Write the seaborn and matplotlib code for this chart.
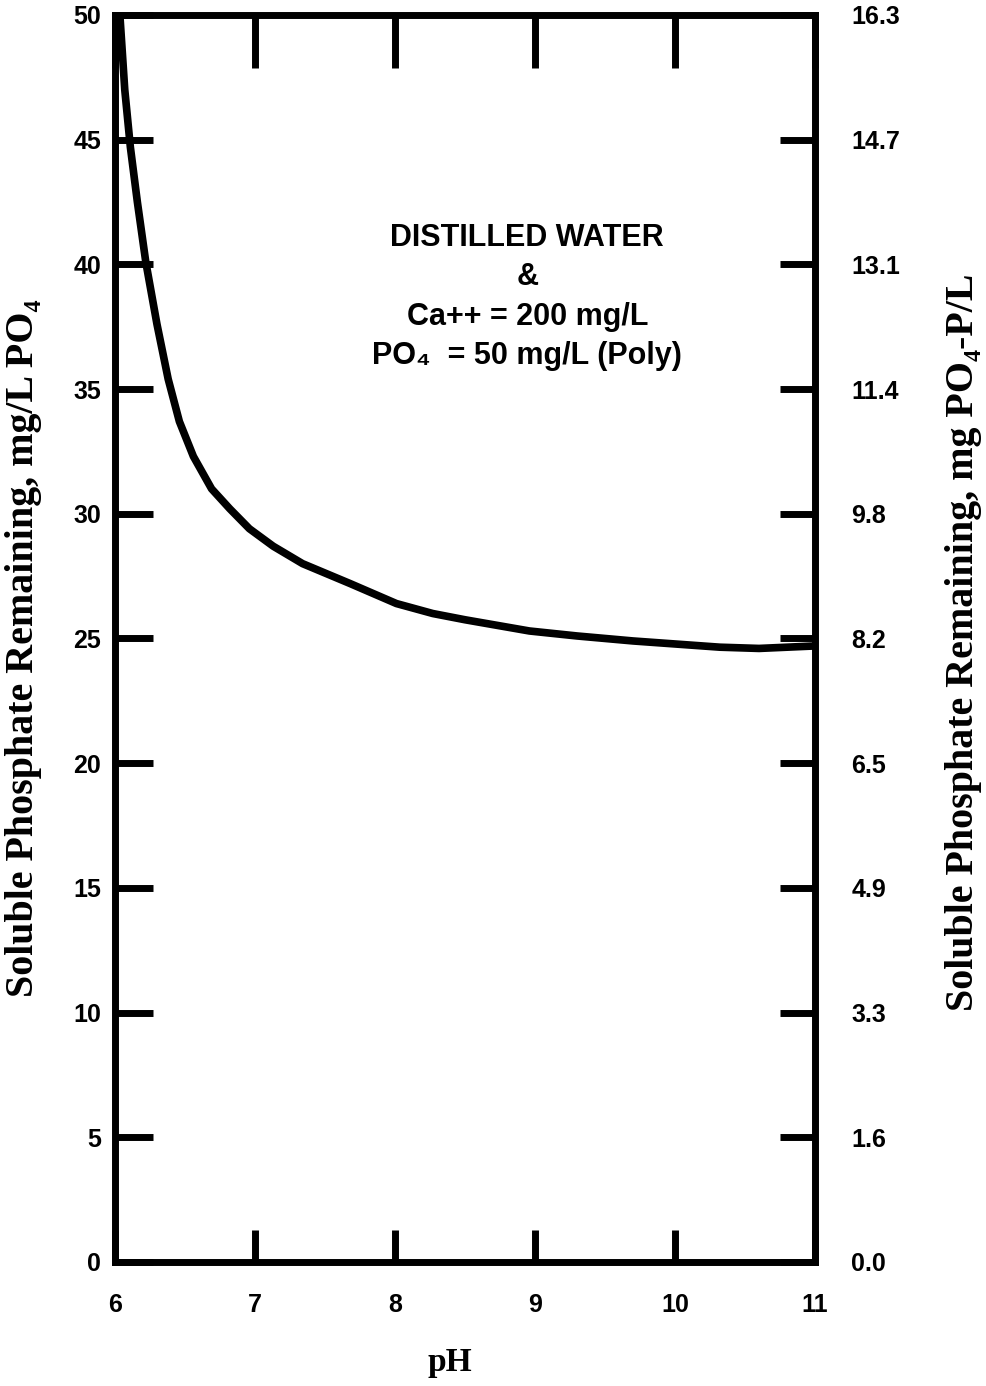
import matplotlib
matplotlib.use("Agg")
import matplotlib.pyplot as plt
import seaborn as sns
import pandas as pd

# curve (pH vs soluble phosphate remaining, mg/L PO4)
ph = [6.035, 6.07, 6.11, 6.16, 6.22, 6.30, 6.38, 6.46, 6.56, 6.69, 6.82,
      6.96, 7.13, 7.34, 7.51, 7.68, 8.01, 8.27, 8.50, 8.96, 9.30, 9.70,
      10.32, 10.60, 11.0]
po4 = [50.0, 47.0, 44.7, 42.5, 40.1, 37.6, 35.4, 33.7, 32.3, 31.0, 30.2,
       29.4, 28.7, 28.0, 27.6, 27.2, 26.4, 26.0, 25.75, 25.3, 25.1, 24.9,
       24.65, 24.6, 24.7]

x_ticks = [6, 7, 8, 9, 10, 11]
y_ticks = [0, 5, 10, 15, 20, 25, 30, 35, 40, 45, 50]
right_labels = ["0.0", "1.6", "3.3", "4.9", "6.5", "8.2", "9.8",
                "11.4", "13.1", "14.7", "16.3"]

df = pd.DataFrame({"pH": ph, "PO4": po4})

sns.set_style("ticks")
sans = ["Liberation Sans Narrow", "Liberation Sans", "DejaVu Sans"]
serif = ["Liberation Serif", "DejaVu Serif"]
plt.rcParams["font.family"] = sans
plt.rcParams["text.color"] = "black"
plt.rcParams["axes.labelcolor"] = "black"
plt.rcParams["xtick.color"] = "black"
plt.rcParams["ytick.color"] = "black"

fig = plt.figure(figsize=(9.86, 13.86), dpi=100)
ax = fig.add_axes([0.1166, 0.0895, 0.71, 0.8997])

sns.lineplot(data=df, x="pH", y="PO4", color="black", linewidth=5.5,
             ax=ax, legend=False)

ax.set_xlim(6, 11)
ax.set_ylim(0, 50)
ax.set_xticks(x_ticks)
ax.set_yticks(y_ticks)
ax.set_xticklabels([str(t) for t in x_ticks], fontsize=18, fontweight="bold",
                   family=sans)
ax.set_yticklabels([str(t) for t in y_ticks], fontsize=18, fontweight="bold",
                   family=sans)
ax.tick_params(axis="y", direction="in", length=27, width=5, pad=10)
ax.tick_params(axis="x", direction="in", length=23, width=5, pad=22)
for s in ax.spines.values():
    s.set_linewidth(5)
    s.set_color("black")

# right axis: same scale expressed as mg PO4-P/L
ax2 = ax.twinx()
ax2.set_ylim(0, 50)
ax2.set_yticks(y_ticks)
ax2.set_yticklabels(right_labels, fontsize=18, fontweight="bold", family=sans)
ax2.tick_params(axis="y", direction="in", length=25, width=5, pad=26)
for s in ax2.spines.values():
    s.set_visible(False)

# top ticks (no labels)
ax3 = ax.twiny()
ax3.set_xlim(6, 11)
ax3.set_xticks(x_ticks)
ax3.set_xticklabels([])
ax3.tick_params(axis="x", direction="in", length=38, width=5)
for s in ax3.spines.values():
    s.set_visible(False)

ax.set_xlabel("pH", fontsize=24, fontweight="bold", family=serif)
ax.xaxis.set_label_coords(0.479, -0.068)
ax.set_ylabel("Soluble Phosphate Remaining, mg/L PO\u2084", fontsize=28.8,
              fontweight="bold", family=serif)
ax.yaxis.set_label_coords(-0.104, 0.492)
ax2.set_ylabel("Soluble Phosphate Remaining, mg PO\u2084-P/L", fontsize=28.8,
               fontweight="bold", family=serif)
ax2.yaxis.set_label_coords(1.186, 0.497)

ax.text(0.589, 0.833,
        "DISTILLED WATER\n&\nCa++ = 200 mg/L\nPO\u2084  = 50 mg/L (Poly)",
        transform=ax.transAxes, ha="center", va="top", multialignment="center",
        fontsize=22, fontweight="bold", family=sans, linespacing=1.4)

fig.savefig("out.png", dpi=100)
